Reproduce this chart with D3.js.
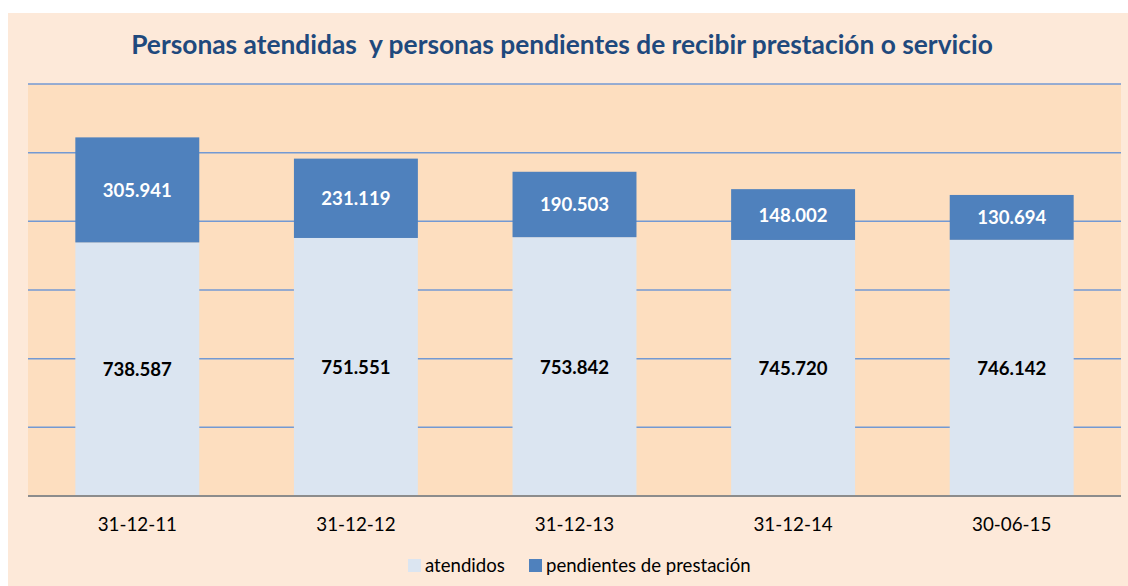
<!DOCTYPE html>
<html lang="es">
<head>
    <meta charset="UTF-8">
    <title>Personas atendidas</title>
    <style>
        body { margin: 0; background: #fff; }
        svg text { font-family: Lato, "Open Sans", sans-serif; }
    </style>
</head>
<body>
    <script src="https://d3js.org/d3.v7.min.js"></script>
    <script>
        // Data
        let categories = ["31-12-11", "31-12-12", "31-12-13", "31-12-14", "30-06-15"];
        let atendidos = [738587, 751551, 753842, 745720, 746142];
        let pendientes = [305941, 231119, 190503, 148002, 130694];
        let seriesNames = ["atendidos", "pendientes de prestación"];
        let seriesColors = ["#dbe5f1", "#4f81bd"];
        let yTicks = [0, 200000, 400000, 600000, 800000, 1000000, 1200000];

        let W = 1128, H = 586;
        let plot = {left: 28, right: 1121, top: 84, bottom: 496};

        let svg = d3.select('body')
            .append('svg')
            .attr('width', W)
            .attr('height', H);

        // outer chart area
        svg.append('rect')
            .attr('x', 8).attr('y', 13)
            .attr('width', W - 8).attr('height', H - 13)
            .attr('fill', '#fde9d9');

        // plot area
        svg.append('rect')
            .attr('x', plot.left).attr('y', plot.top)
            .attr('width', plot.right - plot.left).attr('height', plot.bottom - plot.top)
            .attr('fill', '#fddebf');

        let x = d3.scaleBand()
            .domain(categories)
            .range([plot.left, plot.right])
            .paddingInner(0.433)
            .paddingOuter(0.2165);

        let y = d3.scaleLinear()
            .domain([0, 1200000])
            .range([plot.bottom, plot.top]);

        // gridlines
        svg.selectAll('line.grid')
            .data(yTicks.slice(1))
            .enter()
            .append('line')
            .attr('class', 'grid')
            .attr('x1', plot.left).attr('x2', plot.right)
            .attr('y1', d => y(d)).attr('y2', d => y(d))
            .attr('stroke', '#7399d3')
            .attr('stroke-width', 1.5);

        // stacked data
        let table = categories.map((c, i) => ({cat: c, atendidos: atendidos[i], pendientes: pendientes[i]}));
        let stack = d3.stack().keys(["atendidos", "pendientes"])(table);

        let groups = svg.selectAll('g.series')
            .data(stack)
            .enter()
            .append('g')
            .attr('fill', (d, i) => seriesColors[i]);

        groups.selectAll('rect')
            .data(d => d)
            .enter()
            .append('rect')
            .attr('x', d => x(d.data.cat))
            .attr('y', d => y(d[1]))
            .attr('width', x.bandwidth())
            .attr('height', d => y(d[0]) - y(d[1]));

        // value labels
        let fmt = d3.formatLocale({decimal: ",", thousands: ".", grouping: [3], currency: ["", "€"]}).format(",");
        groups.selectAll('text')
            .data(d => d)
            .enter()
            .append('text')
            .attr('x', d => x(d.data.cat) + x.bandwidth() / 2)
            .attr('y', d => (y(d[0]) + y(d[1])) / 2)
            .attr('text-anchor', 'middle')
            .attr('dominant-baseline', 'central')
            .attr('font-size', '18.6px')
            .attr('font-weight', 'bold')
            .attr('fill', (d, i, n) => n[i].parentNode.__data__.key === "pendientes" ? '#ffffff' : '#000000')
            .text(d => fmt(d[1] - d[0]));

        // baseline
        svg.append('line')
            .attr('x1', plot.left).attr('x2', plot.right)
            .attr('y1', plot.bottom).attr('y2', plot.bottom)
            .attr('stroke', '#8c8c8c')
            .attr('stroke-width', 2);

        // category labels
        svg.selectAll('text.cat')
            .data(categories)
            .enter()
            .append('text')
            .attr('class', 'cat')
            .attr('x', d => x(d) + x.bandwidth() / 2)
            .attr('y', 531)
            .attr('text-anchor', 'middle')
            .attr('font-size', '18.8px')
            .attr('fill', '#000')
            .text(d => d);

        // title
        let title = svg.append('text')
            .attr('x', 562)
            .attr('y', 54)
            .attr('text-anchor', 'middle')
            .attr('font-size', '24px')
            .attr('font-weight', 'bold')
            .attr('fill', '#1f497d')
            .style('white-space', 'pre')
            .text('Personas atendidas  y personas pendientes de recibir prestación o servicio');
        let tw = title.node().getComputedTextLength();
        title.attr('font-size', (24 * 862 / tw).toFixed(2) + 'px');

        // legend
        let legendX = [408, 529];
        let legend = svg.selectAll('g.legend')
            .data(seriesNames)
            .enter()
            .append('g')
            .attr('transform', (d, i) => 'translate(' + legendX[i] + ',559)');
        legend.append('rect')
            .attr('width', 13).attr('height', 13)
            .attr('fill', (d, i) => seriesColors[i]);
        legend.append('text')
            .attr('x', 17)
            .attr('y', 13)
            .attr('font-size', '18.6px')
            .attr('fill', '#000')
            .text(d => d);
    </script>
</body>
</html>
